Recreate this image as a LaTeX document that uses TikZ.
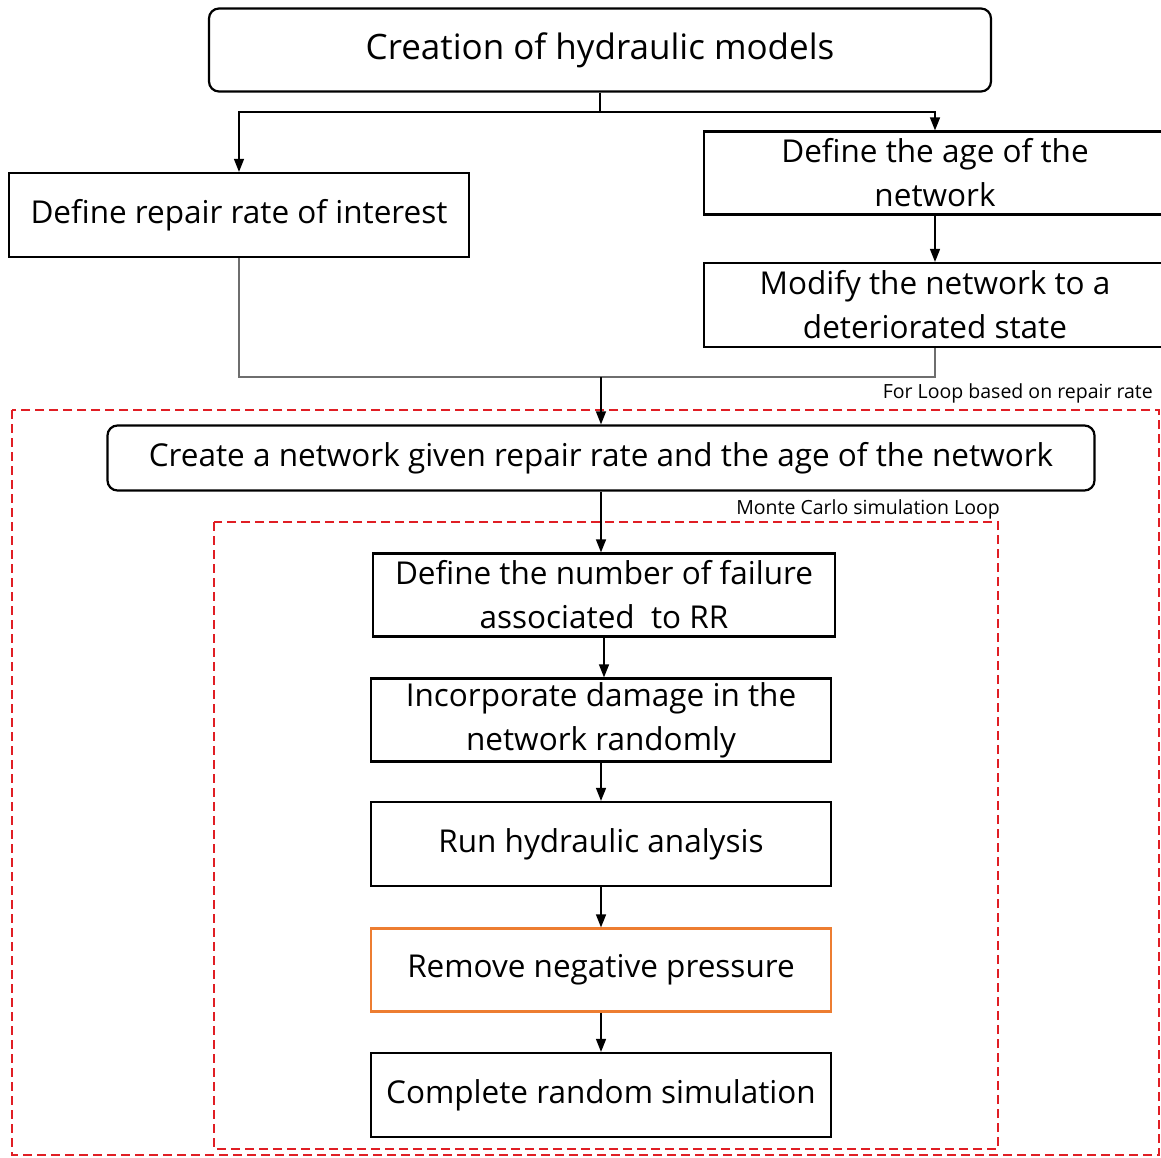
\documentclass[tikz,border=0pt]{standalone}
\usepackage{fontspec}
\setmainfont{Open Sans}
\usetikzlibrary{arrows.meta}
\definecolor{loopred}{RGB}{224,30,36}
\definecolor{boxorange}{RGB}{237,125,49}
\definecolor{mergegray}{RGB}{110,110,110}
\begin{document}
\begin{tikzpicture}[x=1pt,y=-1pt,
  box/.style={draw=black,line width=2.2pt,inner sep=0pt,align=center,
    font=\fontsize{31.5}{44}\selectfont},
  rbox/.style={box,rounded corners=10pt},
  arr/.style={line width=1.3pt,-{Triangle[length=13pt,width=10pt]}},
  conn/.style={line width=1.3pt},
  loop/.style={draw=loopred,line width=2.6pt,dash pattern=on 9pt off 5pt},
  looplabel/.style={anchor=east,inner sep=0pt,font=\fontsize{19.5}{22}\selectfont}]
\clip (0,0) rectangle (1161,1158);
\fill[white] (0,0) rectangle (1161,1158);
% nodes
\node[rbox,minimum width=782pt,minimum height=83pt,font=\fontsize{35}{44}\selectfont] (top) at (600,50) {Creation of hydraulic models};
\node[box,minimum width=460pt,minimum height=84pt] (repair) at (239,215) {Define repair rate of interest};
\node[box,minimum width=462pt,minimum height=83pt] (age) at (935,173) {Define the age of the\\network};
\node[box,minimum width=462pt,minimum height=84pt] (modify) at (935,305) {Modify the network to a\\deteriorated state};
\node[rbox,minimum width=987pt,minimum height=65pt] (create) at (601,458) {Create a network given repair rate and the age of the network};
\node[box,minimum width=462pt,minimum height=83pt] (fail) at (604,595) {Define the number of failure\\associated\ \ to RR};
\node[box,minimum width=460pt,minimum height=83pt] (damage) at (601,720) {Incorporate damage in the\\network randomly};
\node[box,minimum width=460pt,minimum height=84pt] (run) at (601,844) {Run hydraulic analysis};
\node[box,draw=boxorange,minimum width=460pt,minimum height=83pt] (remove) at (601,970) {Remove negative pressure};
\node[box,minimum width=460pt,minimum height=84pt] (complete) at (601,1095) {Complete random simulation};
% loop frames
\draw[loop] (12,410) rectangle (1159,1155);
\draw[loop] (214,522) rectangle (998,1149);
\node[looplabel] (forloop) at (1153,393) {For Loop based on repair rate};
\node[looplabel] (mcloop) at (1000,509) {Monte Carlo simulation Loop};
% connectors
\coordinate (j1) at (600,112);
\coordinate (j2) at (601,377);
\draw[conn] (top.south) -- (j1);
\draw[arr] (j1) -| (repair.north);
\draw[arr] (j1) -| (age.north);
\draw[arr] (age.south) -- (modify.north);
\draw[conn,draw=mergegray] (repair.south) |- (j2) -| (modify.south);
\draw[arr] (j2) -- (create.north);
\draw[arr] (create.south) -- (create.south |- fail.north);
\draw[arr] (fail.south) -- (fail.south |- damage.north);
\draw[arr] (damage.south) -- (run.north);
\draw[arr] (run.south) -- (remove.north);
\draw[arr] (remove.south) -- (complete.north);
\end{tikzpicture}
\end{document}
